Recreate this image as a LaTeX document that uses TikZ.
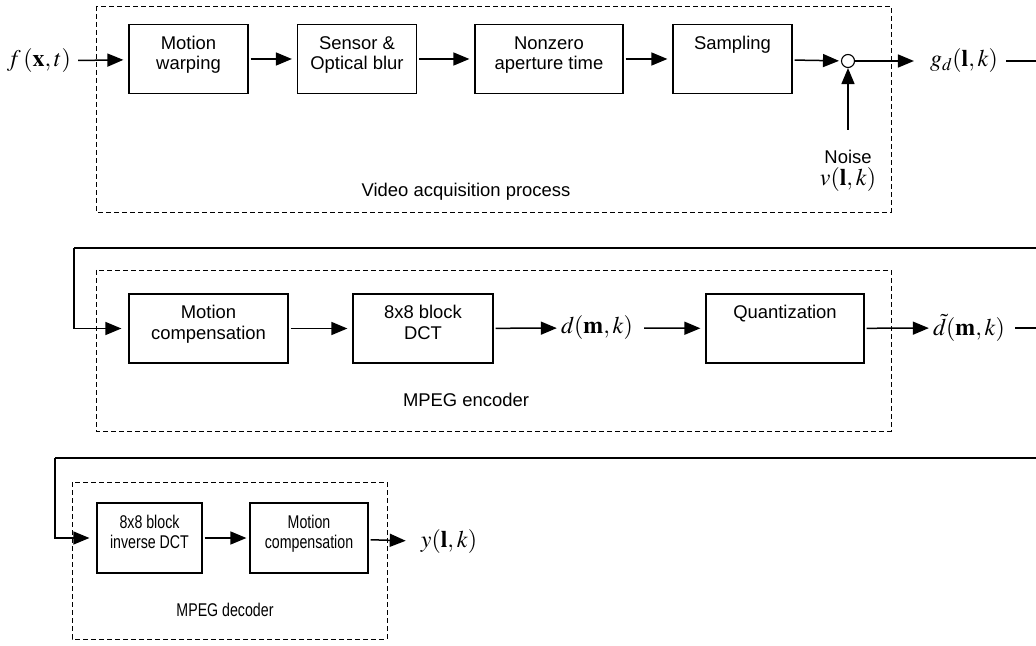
\documentclass[tikz,border=0pt]{standalone}
\usepackage{mathptmx}
\usepackage{fontspec}
\setmainfont{Liberation Sans}
\newfontfamily\narrowsans[FakeStretch=0.77]{Liberation Sans}
\usetikzlibrary{arrows.meta,calc}

\tikzset{
  blk/.style={draw, line width=1.2bp, align=center, inner sep=0pt,
    text depth=12bp, font=\fontsize{18.5}{20.5}\selectfont},
  nblk/.style={blk, font=\narrowsans\fontsize{18.5}{20.5}\selectfont},
  grp/.style={draw, line width=0.9bp, dash pattern=on 5bp off 3bp},
  lbl/.style={inner sep=0pt, font=\fontsize{18.5}{20}\selectfont},
  sig/.style={inner sep=0pt, font=\fontsize{24}{26}\selectfont},
  flow/.style={line width=1.5bp, shorten <=2bp, shorten >=5bp,
    -{Triangle[length=16bp,width=13bp]}},
  wire/.style={line width=1.3bp}
}

\begin{document}
\begin{tikzpicture}[x=1bp,y=-1bp]
\useasboundingbox (0,0) rectangle (1036,646);

% ---------------- video acquisition ----------------
\draw[grp] (96,6) rectangle (891,212);
\node[sig] (fin) at (39,61) {$f\,(\mathbf{x},t)$};
\node[blk, minimum width=119bp, minimum height=69bp] (mw) at (188.5,59) {Motion\\warping};
\node[blk, minimum width=119bp, minimum height=69bp] (sb) at (357,59) {Sensor \&\\Optical blur};
\node[blk, minimum width=148bp, minimum height=69bp] (nz) at (549,59) {Nonzero\\aperture time};
\node[blk, minimum width=119bp, minimum height=69bp] (sp) at (732.5,59) {Sampling\\\mbox{}};
\node[draw, circle, line width=1.1bp, minimum size=13bp, inner sep=0pt] (sum) at (848,61) {};
\node[lbl] (noise) at (848,157) {Noise};
\node[sig] (vn) at (848,180) {$v(\mathbf{l},k)$};
\node[sig] (gd) at (964,61) {$g_d(\mathbf{l},k)$};
\node[lbl] (vap) at (466,192) {Video acquisition process};
\coordinate (gdend) at (1036,61);

\draw[flow, shorten <=7bp] (fin) -- (mw);
\draw[flow] (mw) -- (sb);
\draw[flow] (sb) -- (nz);
\draw[flow] (nz) -- (sp);
\draw[flow, shorten >=2bp] (sp) -- (sum);
\draw[flow, shorten <=0bp, shorten >=16bp] (sum) -- (gd);
\draw[flow, shorten <=0bp, shorten >=0bp] (noise.north |- 0,130) -- (sum);
\draw[wire] (gd.east) ++(8,0) -- (gdend);

% ---------------- MPEG encoder ----------------
\coordinate (fb1r) at (1036,248);
\coordinate (fb1l) at (74,248);
\draw[grp] (96,270) rectangle (891,431);
\node[blk, minimum width=159bp, minimum height=69bp] (mc) at (208.5,328.5) {Motion\\compensation};
\node[blk, minimum width=140bp, minimum height=69bp] (dct) at (423,328.5) {8x8 block\\DCT};
\node[sig] (dmk) at (597,328) {$d(\mathbf{m},k)$};
\node[blk, minimum width=158bp, minimum height=69bp] (qz) at (785,328.5) {Quantization\\\mbox{}};
\node[sig] (dtl) at (969,328) {$\tilde{d}(\mathbf{m},k)$};
\node[lbl] (enc) at (466,400) {MPEG encoder};
\coordinate (dtlend) at (1036,328);

\draw[wire] (fb1r) -- (fb1l);
\draw[flow, line width=1.3bp, shorten <=0bp, shorten >=7bp] (fb1l) |- (mc.west);
\draw[flow] (mc) -- (dct);
\draw[flow, shorten >=4bp] (dct) -- (dmk);
\draw[flow, shorten <=11bp] (dmk) -- (qz);
\draw[flow, shorten >=4bp] (qz) -- (dtl);
\draw[wire] (dtl.east) ++(10,0) -- (dtlend);

% ---------------- MPEG decoder ----------------
\coordinate (fb2r) at (1036,458);
\coordinate (fb2l) at (55,458);
\draw[grp] (72,482) rectangle (387,639);
\node[nblk, minimum width=105bp, minimum height=70bp] (idct) at (149.5,538) {8x8 block\\inverse DCT};
\node[nblk, minimum width=118bp, minimum height=70bp] (mc2) at (309,538) {Motion\\compensation};
\node[sig] (yout) at (449,542) {$y(\mathbf{l},k)$};
\node[lbl, font=\narrowsans\fontsize{18.5}{20}\selectfont] (dec) at (225,610) {MPEG decoder};

\draw[wire] (fb2r) -- (fb2l);
\draw[flow, line width=1.3bp, shorten <=0bp, shorten >=7bp] (fb2l) |- (idct.west);
\draw[flow, shorten >=3bp] (idct) -- (mc2);
\draw[flow, shorten >=15bp] (mc2) -- (yout);
\end{tikzpicture}
\end{document}
